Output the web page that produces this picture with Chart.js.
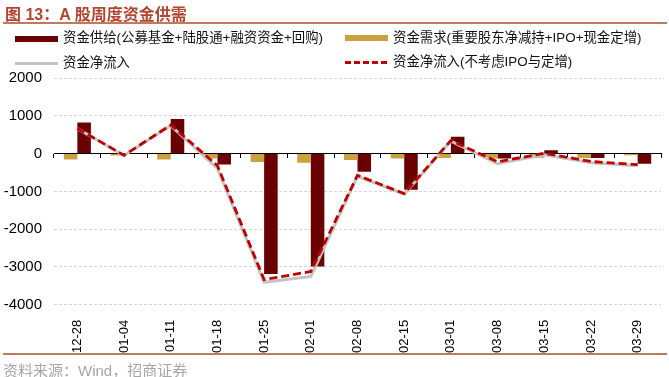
<!DOCTYPE html>
<html>
<head>
<meta charset="utf-8">
<script src="https://cdn.jsdelivr.net/npm/chart.js@4.4.0/dist/chart.umd.min.js"></script>
<style>
    body { margin: 0; background: #fff; }
    #page { position: relative; width: 669px; height: 377px; overflow: hidden; font-family: "Liberation Sans", "Noto Sans CJK SC", sans-serif; }
    #chart-wrap { position: absolute; left: 0; top: 0; width: 669px; height: 377px; }
    .title { position: absolute; left: 5px; top: 1px; font: bold 16px "Liberation Sans", "Noto Sans CJK SC", sans-serif; color: #b5452e; white-space: nowrap; }
    .rule { position: absolute; left: 3px; width: 664px; height: 2px; background: #c07a5c; }
    .legend-item { position: absolute; font-size: 13.4px; color: #111; white-space: nowrap; line-height: 16px; }
    .chip { position: absolute; }
    .source { position: absolute; left: 3px; top: 359px; font-size: 15px; color: #a6a6a6; white-space: nowrap; }
</style>
</head>
<body>
<div id="page">
    <div id="chart-wrap"><canvas id="flow-chart"></canvas></div>
    <div class="title">图 13：A 股周度资金供需</div>
    <div class="rule" style="top: 22px;"></div>
    <div id="flow-legend"></div>
    <div class="rule" style="top: 353px;"></div>
    <div class="source">资料来源：Wind，招商证券</div>
</div>
<script>
// Week labels on the x axis
const weeks = ['12-28', '01-04', '01-11', '01-18', '01-25', '02-01', '02-08', '02-15', '03-01', '03-08', '03-15', '03-22', '03-29'];

// In 亿元
const supply = [825, 0, 914, -290, -3185, -2985, -480, -958, 444, -130, 85, -115, -270]; // 资金供给
const demand = [-157, -52, -157, -130, -220, -245, -167, -130, -115, -130, -110, -115, -45]; // 资金需求
const netFlow = [660, -52, 740, -390, -3405, -3250, -600, -1075, 330, -270, -30, -240, -320]; // 资金净流入
const netFlowExIpo = [665, -45, 757, -320, -3335, -3120, -575, -1060, 350, -220, 10, -210, -290]; // 不考虑IPO与定增

const yTicks = [-4000, -3000, -2000, -1000, 0, 1000, 2000];

const supplyColor = '#6b0000';
const demandColor = '#c9a23e';
const netColor = '#c4c4c4';
const exIpoColor = '#c00000';

const datasets = [
    {
        type: 'line', label: '资金净流入(不考虑IPO与定增)', data: netFlowExIpo, order: 0,
        borderColor: exIpoColor, borderWidth: 2.8, borderDash: [8, 4], pointRadius: 0, tension: 0, fill: false,
    },
    {
        type: 'line', label: '资金净流入', data: netFlow, order: 1,
        borderColor: netColor, borderWidth: 3, pointRadius: 0, tension: 0, fill: false,
    },
    { type: 'bar', label: '资金需求(重要股东净减持+IPO+现金定增)', data: demand, order: 2, backgroundColor: demandColor },
    { type: 'bar', label: '资金供给(公募基金+陆股通+融资资金+回购)', data: supply, order: 3, backgroundColor: supplyColor },
];

// Legend is laid out by hand in two rows like the original
const legendSpots = [
    { label: datasets[3].label, left: 15, top: 30, chip: { top: 36, height: 6, background: supplyColor } },
    { label: datasets[2].label, left: 345, top: 30, chip: { top: 35, height: 6, background: demandColor } },
    { label: datasets[1].label, left: 15, top: 55, chip: { top: 62, height: 3, background: netColor } },
    { label: datasets[0].label, left: 345, top: 54, chip: { top: 61, height: 3, background: `repeating-linear-gradient(90deg, ${exIpoColor} 0 6px, transparent 6px 9px)` } },
];
const text = [];
legendSpots.forEach((spot) => {
    text.push(`<div class="chip" style="left:${spot.left}px;top:${spot.chip.top}px;width:43px;height:${spot.chip.height}px;background:${spot.chip.background}"></div>`);
    text.push(`<div class="legend-item" style="left:${spot.left + 48}px;top:${spot.top}px">${spot.label}</div>`);
});
document.getElementById('flow-legend').innerHTML = text.join('');

const ctx = document.getElementById('flow-chart').getContext('2d');
new Chart(ctx, {
    type: 'bar',
    data: { labels: weeks, datasets: datasets },
    options: {
        responsive: true,
        maintainAspectRatio: false,
        animation: false,
        categoryPercentage: 0.58,
        barPercentage: 1,
        layout: { padding: { top: 78, left: 0, right: 8, bottom: 17 } },
        plugins: { legend: { display: false }, tooltip: { enabled: false } },
        scales: {
            x: {
                offset: true,
                grid: { display: false },
                border: { display: false },
                ticks: {
                    minRotation: 90, maxRotation: 90, padding: 7, color: '#000',
                    font: { family: '"Liberation Sans", Arial, sans-serif', size: 13 },
                },
            },
            // zero line with the small category tick marks
            xZero: {
                type: 'category',
                axis: 'x',
                position: { y: 0 },
                offset: true,
                grid: { offset: true, drawOnChartArea: false, drawTicks: true, tickLength: 4, color: '#000' },
                border: { display: true, color: '#000', width: 1 },
                ticks: { display: false },
            },
            y: {
                min: -4000,
                max: 2000,
                afterBuildTicks: (scale) => { scale.ticks = yTicks.map(v => ({ value: v })); },
                afterFit: (scale) => { scale.width = 54; },
                grid: { color: '#d6d6d6', drawTicks: false, tickLength: 0 },
                border: { display: false, dash: [3, 2] },
                ticks: {
                    padding: 12, color: '#000',
                    font: { family: '"Liberation Sans", Arial, sans-serif', size: 15 },
                    callback: value => String(value),
                },
            },
        },
    },
});
</script>
</body>
</html>
